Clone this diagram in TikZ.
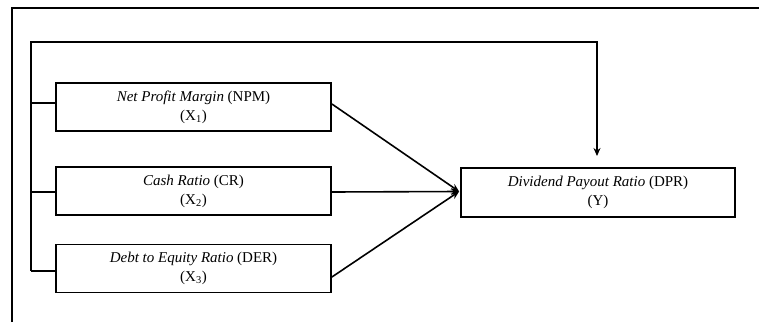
\documentclass[tikz,border=0pt]{standalone}
\usepackage{fontspec}
\setmainfont{Liberation Serif}
\usetikzlibrary{arrows.meta}
\begin{document}
\begin{tikzpicture}[x=1pt,y=1pt,
  varbox/.style={draw, line width=1.8pt, minimum width=275pt, minimum height=48pt,
    inner sep=0pt, align=center, font=\fontsize{15}{19}\selectfont},
  conn/.style={line width=1.6pt},
  arr/.style={line width=1.6pt, -{Stealth[length=8pt,width=7pt]}}]
\useasboundingbox (0,0) rectangle (759,322);
% outer frame (partly cut off)
\coordinate (fbl) at (12,0);
\coordinate (ftl) at (12,314);
\coordinate (ftr) at (759,314);
\draw[line width=1.8pt] (fbl) -- (ftl) -- (ftr);
% boxes
\node[varbox] (npm) at (193.5,215) {\textit{Net Profit Margin} (NPM)\\(X\textsubscript{1})};
\node[varbox] (cr) at (193.5,131) {\textit{Cash Ratio} (CR)\\(X\textsubscript{2})};
\node[varbox] (der) at (193.5,53.5) {\textit{Debt to Equity Ratio} (DER)\\(X\textsubscript{3})};
\node[varbox, minimum width=274pt, minimum height=49pt] (dpr) at (598,129.5) {\textit{Dividend Payout Ratio} (DPR)\\(Y)};
% feedback line
\coordinate (vb) at (31,51);
\coordinate (vt) at (31,280);
\coordinate (ht) at (597,280);
\coordinate (at) at (597,166);
\draw[arr] (vb) -- (vt) -- (ht) -- (at);
% branches
\coordinate (b1) at (31,219);
\coordinate (b2) at (31,130);
\draw[conn] (b1) -- (npm.west |- b1);
\draw[conn] (b2) -- (cr.west |- b2);
\draw[conn] (vb) -- (der.west |- vb);
% arrows into DPR
\coordinate (tip) at ([xshift=-1pt,yshift=1pt]dpr.west);
\draw[arr] ([yshift=3pt]npm.east) -- (tip);
\draw[arr] ([yshift=-1pt]cr.east) -- (tip);
\draw[arr] ([yshift=-8.5pt]der.east) -- (tip);
\end{tikzpicture}
\end{document}
